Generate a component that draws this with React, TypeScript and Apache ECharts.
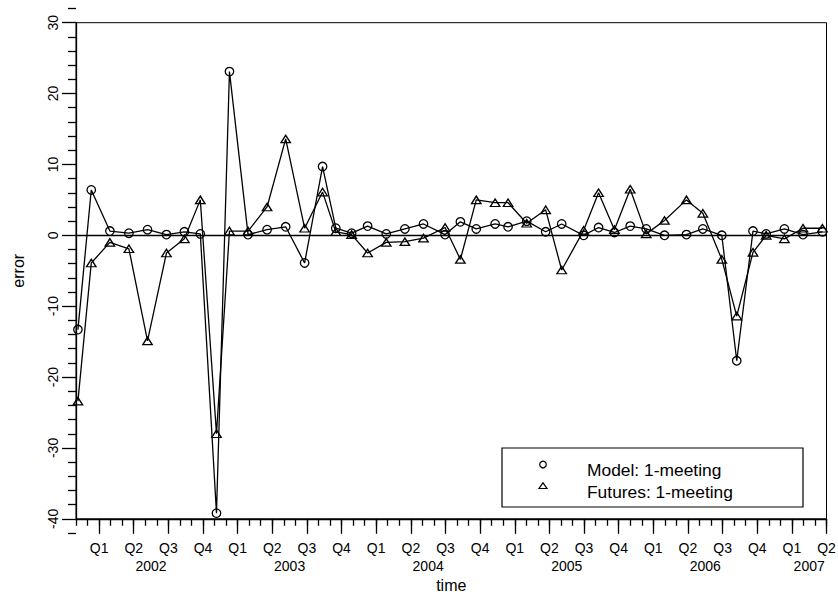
import React, { useEffect, useRef } from "react";
import * as echarts from "echarts";

// FOMC meeting dates (x positions)
const meetingDates = [
  "2001-11-06", "2001-12-11",
  "2002-01-30", "2002-03-19", "2002-05-07", "2002-06-26", "2002-08-13", "2002-09-24", "2002-11-06", "2002-12-10",
  "2003-01-29", "2003-03-18", "2003-05-06", "2003-06-25", "2003-08-12", "2003-09-16", "2003-10-28", "2003-12-09",
  "2004-01-28", "2004-03-16", "2004-05-04", "2004-06-30", "2004-08-10", "2004-09-21", "2004-11-10", "2004-12-14",
  "2005-02-02", "2005-03-22", "2005-05-03", "2005-06-30", "2005-08-09", "2005-09-20", "2005-11-01", "2005-12-13",
  "2006-01-31", "2006-03-28", "2006-05-10", "2006-06-29", "2006-08-08", "2006-09-20", "2006-10-25", "2006-12-12",
  "2007-01-31", "2007-03-21",
];

const modelErrors = [
  -13.3, 6.4,
  0.6, 0.3, 0.8, 0.1, 0.5, 0.2, -39.2, 23.1,
  0.1, 0.8, 1.2, -3.9, 9.7, 1.0, 0.3, 1.3,
  0.2, 0.9, 1.6, 0.1, 1.9, 0.9, 1.6, 1.2,
  2.0, 0.5, 1.6, 0.0, 1.1, 0.4, 1.3, 0.9,
  0.0, 0.1, 0.9, 0.0, -17.7, 0.6, 0.2, 0.9,
  0.1, 0.5,
];

const futuresErrors = [
  -23.4, -3.9,
  -1.0, -1.9, -14.9, -2.5, -0.5, 5.0, -28.0, 0.6,
  0.6, 4.0, 13.6, 1.0, 6.1, 0.5, 0.1, -2.5,
  -1.0, -0.9, -0.4, 1.1, -3.4, 5.0, 4.6, 4.6,
  1.7, 3.6, -4.9, 0.7, 6.0, 0.8, 6.5, 0.2,
  2.1, 5.0, 3.1, -3.4, -11.4, -2.4, 0.0, -0.5,
  1.0, 1.0,
];

const seriesNames = ["Model: 1-meeting", "Futures: 1-meeting"];
const yearLabels = ["2002", "2003", "2004", "2005", "2006", "2007"];
const quarterLabels = ["Q1", "Q2", "Q3", "Q4"];
const axisStart = "2001-11-01";
const axisEnd = "2007-04-01";

const FONT = "'Liberation Sans', Arial, Helvetica, sans-serif";

function toMonths(date: string): number {
  const [y, m, d] = date.split("-").map(Number);
  const [y0, m0] = axisStart.split("-").map(Number);
  const dim = new Date(y, m, 0).getDate();
  return (y - y0) * 12 + (m - m0) + (d - 1) / dim;
}

export default function App() {
  const ref = useRef<HTMLDivElement>(null);

  useEffect(() => {
    if (!ref.current) return;
    const chart = echarts.init(ref.current, null, { renderer: "svg" });

    const xMax = toMonths(axisEnd);
    const qTicks: number[] = [];
    const qLabelMap = new Map<string, string>();
    const yearPos: number[] = [];
    const yearLabelMap = new Map<string, string>();
    yearLabels.forEach((yr) => {
      const pos: number[] = [];
      quarterLabels.forEach((q, qi) => {
        const mm = String(1 + qi * 3).padStart(2, "0");
        const v = toMonths(`${yr}-${mm}-01`);
        if (v <= xMax + 1e-6) {
          qTicks.push(v);
          qLabelMap.set(v.toFixed(3), q);
          pos.push(v);
        }
      });
      const c = (pos[0] + pos[pos.length - 1]) / 2;
      yearPos.push(c);
      yearLabelMap.set(c.toFixed(3), yr);
    });

    const modelData = meetingDates.map((d, i) => [toMonths(d), modelErrors[i]]);
    const futuresData = meetingDates.map((d, i) => [toMonths(d), futuresErrors[i]]);

    const black = "#000";
    const gridL = 76, gridR = 11.5, gridT = 22.7, gridB = 81.2;
    const ext = 2 * (600 - gridT - gridB) / 70;

    // legend box drawn as graphic
    const lgX = 502, lgY = 448, lgW = 301, lgH = 59;
    const iconX = 543, textX = 587, row1 = 470, row2 = 491.5;

    chart.setOption({
      animation: false,
      backgroundColor: "#fff",
      textStyle: { fontFamily: FONT, color: black },
      grid: [
        {
          left: gridL, right: gridR, top: gridT, bottom: gridB,
          show: true, borderColor: black, borderWidth: 1, backgroundColor: "transparent",
          outerBoundsMode: "none",
        },
        {
          left: gridL, right: gridR, top: gridT - ext, bottom: gridB - ext,
          show: false, outerBoundsMode: "none",
        },
      ],
      graphic: [
        {
          type: "group", z: 100,
          children: [
            { type: "rect", shape: { x: lgX, y: lgY, width: lgW, height: lgH }, style: { fill: "#fff", stroke: black, lineWidth: 1.2 } },
            { type: "circle", shape: { cx: iconX, cy: row1 - 5.5, r: 3.3 }, style: { fill: "none", stroke: black, lineWidth: 1.2 } },
            { type: "polygon", shape: { points: [[iconX - 4, row2 - 3], [iconX + 4, row2 - 3], [iconX, row2 - 8.7]] }, style: { fill: "none", stroke: black, lineWidth: 1.2 } },
            { type: "text", x: textX, y: row1, style: { text: seriesNames[0], fill: black, font: `17.4px ${FONT}`, verticalAlign: "middle", align: "left" } },
            { type: "text", x: textX, y: row2, style: { text: seriesNames[1], fill: black, font: `17.4px ${FONT}`, verticalAlign: "middle", align: "left" } },
          ],
        },
      ],
      xAxis: [
        {
          type: "value", gridIndex: 0, position: "bottom", min: 0, max: xMax, interval: 1,
          axisLine: { show: true, onZero: false, lineStyle: { color: black, width: 1.3 } },
          axisTick: { show: true, inside: false, length: 7, lineStyle: { color: black, width: 1.3 } },
          axisLabel: { show: false },
          splitLine: { show: false },
        },
        {
          type: "value", gridIndex: 0, position: "bottom", min: 0, max: xMax,
          axisLine: { show: false, onZero: false },
          axisTick: { show: true, inside: false, length: 15, customValues: qTicks, lineStyle: { color: black, width: 1.3 } },
          axisLabel: {
            show: true, customValues: qTicks, margin: 22, fontSize: 14, color: black, fontFamily: FONT,
            formatter: (v: number) => qLabelMap.get(v.toFixed(3)) ?? "",
          },
          splitLine: { show: false },
        },
        {
          type: "value", gridIndex: 0, position: "bottom", min: 0, max: xMax,
          axisLine: { show: false, onZero: false },
          axisTick: { show: false },
          axisLabel: {
            show: true, customValues: yearPos, margin: 40, fontSize: 14, color: black, fontFamily: FONT,
            formatter: (v: number) => yearLabelMap.get(v.toFixed(3)) ?? "",
          },
          splitLine: { show: false },
          name: "time", nameLocation: "middle", nameGap: 59, nameMoveOverlap: false,
          nameTextStyle: { fontSize: 16, color: black, fontFamily: FONT },
        },
        {
          type: "value", gridIndex: 1, min: 0, max: xMax, show: false,
        },
      ],
      yAxis: [
        {
          type: "value", gridIndex: 0, min: -40, max: 30, interval: 10,
          axisLine: { show: true, onZero: false, lineStyle: { color: black, width: 1.3 } },
          axisTick: { show: true, inside: false, length: 14, lineStyle: { color: black, width: 1.3 } },
          minorTick: { show: true, splitNumber: 5, length: 8, lineStyle: { color: black, width: 1.3 } },
          axisLabel: { show: true, rotate: 90, margin: 16, fontSize: 14, color: black, fontFamily: FONT },
          splitLine: { show: false },
          name: "error", nameLocation: "middle", nameGap: 50, nameRotate: 90, nameMoveOverlap: false,
          nameTextStyle: { fontSize: 16, color: black, fontFamily: FONT },
        },
        {
          type: "value", gridIndex: 1, min: -42, max: 32,
          axisLine: { show: false },
          axisTick: { show: true, inside: false, length: 8, customValues: [-42, 32], lineStyle: { color: black, width: 1.3 } },
          axisLabel: { show: false },
          splitLine: { show: false },
        },
      ],
      series: [
        {
          type: "line", name: seriesNames[0], xAxisIndex: 0, yAxisIndex: 0,
          data: modelData,
          symbol: "circle", symbolSize: 8.5, showSymbol: true,
          itemStyle: { color: "transparent", borderColor: black, borderWidth: 1.3 },
          lineStyle: { color: black, width: 1.3 },
          emphasis: { disabled: true },
          markLine: {
            silent: true, symbol: ["none", "none"], label: { show: false },
            lineStyle: { color: black, width: 1.3, type: "solid" },
            data: [{ yAxis: 0 }],
          },
          z: 3,
        },
        {
          type: "line", name: seriesNames[1], xAxisIndex: 0, yAxisIndex: 0,
          data: futuresData,
          symbol: "triangle", symbolSize: [9.5, 7.5], showSymbol: true,
          itemStyle: { color: "transparent", borderColor: black, borderWidth: 1.3 },
          lineStyle: { color: black, width: 1.3 },
          emphasis: { disabled: true },
          z: 3,
        },
      ],
    });

    return () => chart.dispose();
  }, []);

  return (
    <div
      ref={ref}
      style={{ position: "fixed", left: 0, top: 0, width: 838, height: 600, background: "#fff" }}
    />
  );
}
